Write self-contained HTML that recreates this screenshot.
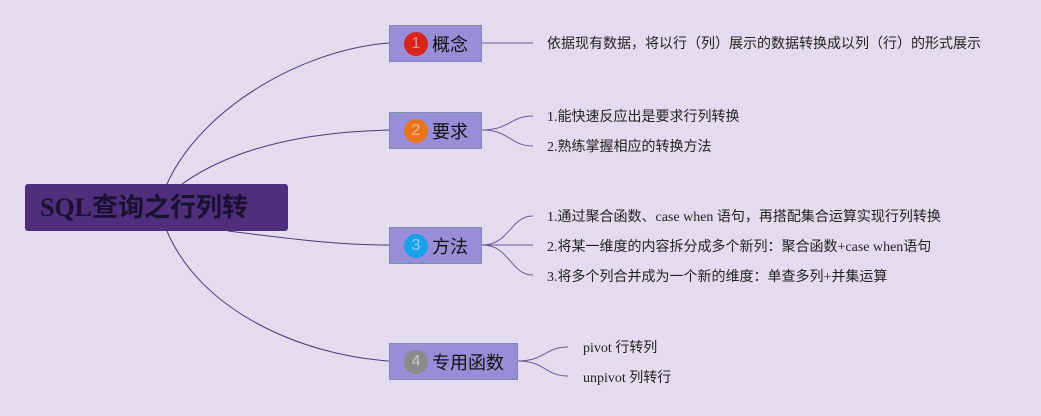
<!DOCTYPE html>
<html><head><meta charset="utf-8"><style>
body{margin:0;width:1041px;height:416px;background:#e3dcee;position:relative;overflow:hidden;font-family:"Liberation Serif","Noto Sans CJK SC",serif}
.n{position:absolute;background:#9a8dd8;border:1.5px solid #7d8bb0;box-sizing:border-box;height:37px;font-family:"Liberation Sans","Noto Sans CJK SC",sans-serif;font-size:18px;color:#111;display:flex;align-items:center;padding-left:14px}
.c{display:inline-block;width:24px;height:24px;border-radius:50%;color:rgba(255,255,255,.5);font-size:16px;text-align:center;line-height:24px;margin-right:4px}
.t{position:absolute;font-size:14px;color:#222;white-space:nowrap}
</style></head><body>
<svg width="1041" height="416" style="position:absolute;left:0;top:0" fill="none" stroke="#4a3a7a" stroke-width="1">
<path d="M167 184 C200 110 300 50 389 43"/>
<path d="M182 184 C230 150 300 132 389 130"/>
<path d="M228 231 C300 240 340 245 389 245"/>
<path d="M167 231 C200 310 300 355 389 361"/>
<g stroke="#6a5a9a">
<path d="M482 43 H533"/>
<path d="M482 130 C510 130 510 116 533 116"/>
<path d="M482 130 C510 130 510 146 533 146"/>
<path d="M482 245 C510 245 510 216 533 216"/>
<path d="M482 245 H533"/>
<path d="M482 245 C510 245 510 275 533 275"/>
<path d="M518 361 C545 361 545 347 568 347"/>
<path d="M518 361 C545 361 545 376 568 376"/>
</g></svg>
<div style="position:absolute;left:25px;top:184px;width:263px;height:47px;background:#4f2f7c;border-radius:3px;font-size:26px;font-weight:bold;color:#1a1030;line-height:47px;padding-left:15px;box-sizing:border-box">SQL查询之行列转</div>
<div class="n" style="left:389px;top:25px;width:93px"><span class="c" style="background:#d8241c">1</span>概念</div>
<div class="n" style="left:389px;top:112px;width:93px"><span class="c" style="background:#e8751c">2</span>要求</div>
<div class="n" style="left:389px;top:227px;width:93px"><span class="c" style="background:#1aa0e8">3</span>方法</div>
<div class="n" style="left:389px;top:343px;width:129px"><span class="c" style="background:#8a8a8a">4</span>专用函数</div>
<div class="t" style="left:547px;top:33px">依据现有数据，将以行（列）展示的数据转换成以列（行）的形式展示</div>
<div class="t" style="left:547px;top:106px">1.能快速反应出是要求行列转换</div>
<div class="t" style="left:547px;top:136px">2.熟练掌握相应的转换方法</div>
<div class="t" style="left:547px;top:206px">1.通过聚合函数、case when 语句，再搭配集合运算实现行列转换</div>
<div class="t" style="left:547px;top:236px">2.将某一维度的内容拆分成多个新列：聚合函数+case when语句</div>
<div class="t" style="left:547px;top:266px">3.将多个列合并成为一个新的维度：单查多列+并集运算</div>
<div class="t" style="left:583px;top:337px">pivot 行转列</div>
<div class="t" style="left:583px;top:367px">unpivot 列转行</div>
</body></html>
